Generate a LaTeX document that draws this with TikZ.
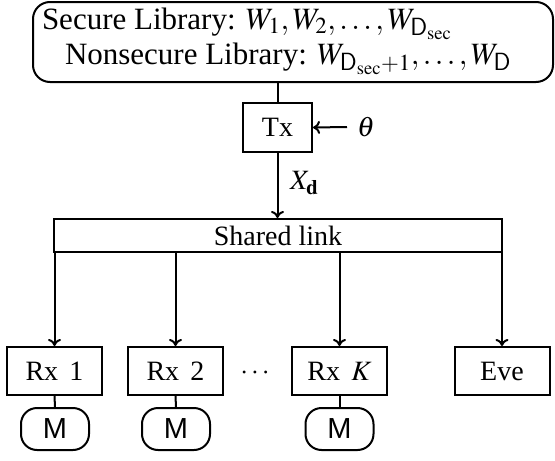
\documentclass[tikz,border=0pt]{standalone}
\usepackage{mathptmx}
\usepackage[no-math]{fontspec}
\setmainfont{Liberation Serif}
\setsansfont{Liberation Sans}
\usetikzlibrary{arrows.meta}
\begin{document}
\begin{tikzpicture}[x=1pt,y=-1pt,line width=2pt,
  font=\fontsize{28}{32}\selectfont,
  >={To[length=7pt,width=13pt]},
  rxbox/.style={draw, minimum width=95pt, minimum height=48pt, inner sep=0pt},
  mem/.style={draw, rounded corners=16pt, minimum width=68pt, minimum height=42pt, inner sep=0pt, font=\fontsize{29}{32}\selectfont\sffamily},
  txt/.style={inner sep=0pt, anchor=base west, font=\fontsize{31}{34}\selectfont}]
\useasboundingbox (0,0) rectangle (555,461);
% library box
\node[draw, rounded corners=17pt, minimum width=520pt, minimum height=80pt, inner sep=0pt] (lib) at (293,42) {};
\node[txt] (l1) at (41,29) {Secure Library: $W_1, W_2, \ldots, W_{\mathsf{D}_{\mathrm{sec}}}$};
\node[txt] (l2) at (64,64) {Nonsecure Library: $W_{\mathsf{D}_{\mathrm{sec}}+1}, \ldots, W_{\mathsf{D}}$};
% transmitter
\node[draw, minimum width=69pt, minimum height=49pt, inner sep=0pt] (tx) at (277.5,127.5) {Tx};
\coordinate (libout) at (277.5,82);
\draw (libout) -- (tx.north);
\node (theta) at (366,127) {$\theta$};
\coordinate (thin) at (347,127);
\draw[->] (thin) -- (tx.east);
% shared link
\node[draw, minimum width=448pt, minimum height=33pt, inner sep=0pt] (link) at (278,235.5) {Shared link};
\draw[->] (tx.south) -- (tx.south |- link.north);
\node[anchor=west, inner sep=0pt] (xd) at (289,183) {$X_{\mathbf{d}}$};
% receivers
\node[rxbox] (rx1) at (54.5,371) {Rx\hspace{0.4em}1};
\node[rxbox] (rx2) at (175.5,371) {Rx\hspace{0.4em}2};
\node[rxbox] (rxk) at (339.5,371) {Rx\hspace{0.4em}$K$};
\node[rxbox] (eve) at (502,371) {Eve};
\node (dots) at (255,373) {$\cdots$};
\foreach \r in {rx1,rx2,rxk,eve}{
  \draw[->] (\r.north |- link.south) -- (\r.north);
}
% memories
\node[mem] (m1) at (55,429) {M};
\node[mem] (m2) at (176,429) {M};
\node[mem] (mk) at (339.5,429) {M};
\draw (rx1.south) -- (m1.north);
\draw (rx2.south) -- (m2.north);
\draw (rxk.south) -- (mk.north);
\end{tikzpicture}
\end{document}
